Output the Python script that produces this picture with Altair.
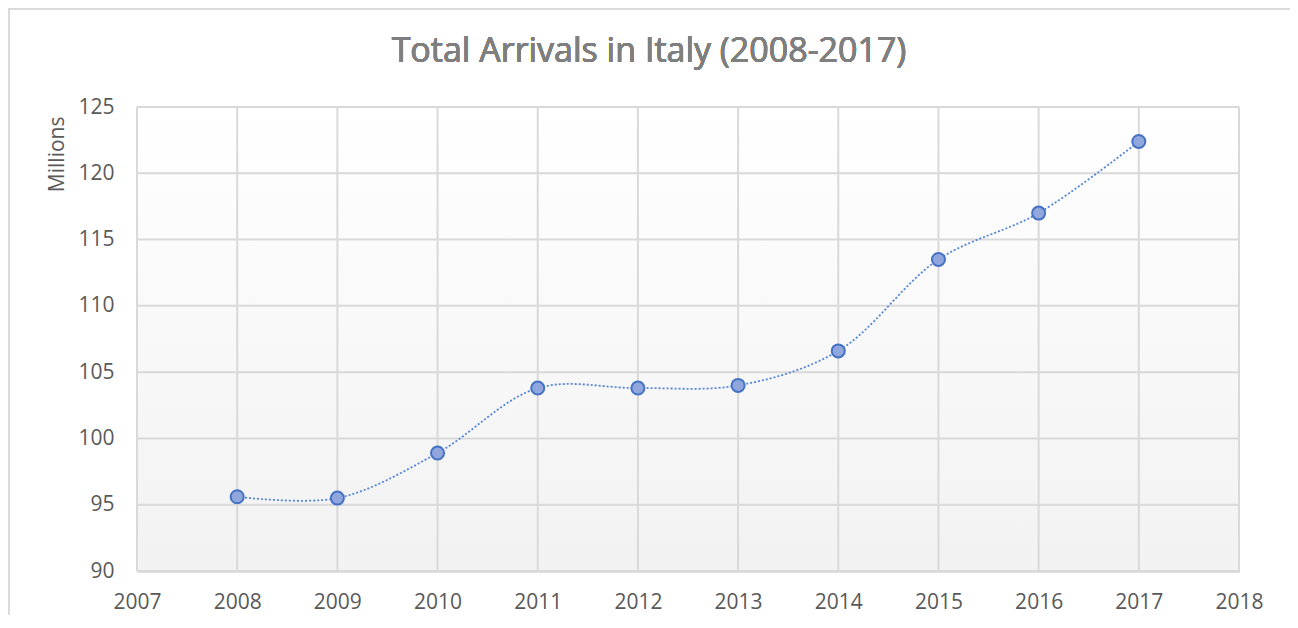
import altair as alt
import pandas as pd

years = [2008, 2009, 2010, 2011, 2012, 2013, 2014, 2015, 2016, 2017]
arrivals = [95.6, 95.5, 98.9, 103.8, 103.8, 104.0, 106.6, 113.5, 117.0, 122.4]
x_ticks = list(range(2007, 2019))
y_ticks = [90, 95, 100, 105, 110, 115, 120, 125]
title_text = "Total Arrivals in Italy (2008-2017)"

df = pd.DataFrame({"year": years, "arrivals": arrivals})
dfx = pd.DataFrame({"year": x_ticks})
dfy = pd.DataFrame({"arrivals": y_ticks})

W, H = 1102, 464
FONT = "Open Sans"
GREY = "#595959"
GRID = "#d9d9d9"

xscale = alt.Scale(domain=[2007, 2018], nice=False, zero=False)
yscale = alt.Scale(domain=[90, 125], nice=False, zero=False)
xaxis = alt.Axis(values=x_ticks, format="d", title=None, grid=False, labelFlush=False,
                 domainColor="#bfbfbf", domainWidth=2, ticks=False,
                 labelFont=FONT, labelFontSize=21, labelColor=GREY, labelPadding=20)
yaxis = alt.Axis(values=y_ticks, title="Millions", grid=False, domain=False, ticks=False,
                 labelFont=FONT, labelFontSize=21, labelColor=GREY, labelPadding=23,
                 titleFont=FONT, titleFontSize=21, titleColor=GREY, titleFontWeight="normal",
                 titleAngle=270, titleAlign="right", titleBaseline="middle",
                 titleX=-80, titleY=9)

def X(f):
    return alt.X(f"{f}:Q", scale=xscale, axis=xaxis)

def Y(f):
    return alt.Y(f"{f}:Q", scale=yscale, axis=yaxis)

bg = alt.Chart(df).mark_rect(
    color=alt.LinearGradient(gradient="linear", x1=0, y1=0, x2=0, y2=1,
                             stops=[alt.GradientStop(color="#ffffff", offset=0),
                                    alt.GradientStop(color="#f2f2f2", offset=1)])
).encode(x=alt.value(0), x2=alt.value(W), y=alt.value(0), y2=alt.value(H))

vgrid = alt.Chart(dfx).mark_rule(color=GRID, strokeWidth=2).encode(
    x=X("year"), y=alt.value(0), y2=alt.value(H))
hgrid = alt.Chart(dfy).mark_rule(color=GRID, strokeWidth=2).encode(
    y=Y("arrivals"), x=alt.value(0), x2=alt.value(W))

border = alt.Chart(df).mark_rect(fill=None, stroke=GRID, strokeWidth=1.5, clip=False).encode(
    x=alt.value(-128.5), x2=alt.value(1154.5), y=alt.value(-98.5), y2=alt.value(560))

title = alt.Chart(df).mark_text(text=title_text, font=FONT, fontSize=34, color="#7f7f7f",
                                align="center", baseline="middle").encode(
    x=alt.value(512), y=alt.value(-55))

line = alt.Chart(df).mark_line(interpolate="catmull-rom", color="#5585d8", strokeWidth=1.8,
                               strokeDash=[2, 2]).encode(x=X("year"), y=Y("arrivals"))
pts = alt.Chart(df).mark_point(filled=True, shape="circle", size=170, fill="#91a6dc",
                               stroke="#4472c4", strokeWidth=2, opacity=1).encode(
    x=X("year"), y=Y("arrivals"))

chart = alt.layer(bg, vgrid, hgrid, border, title, line, pts).properties(
    width=W, height=H,
    autosize=alt.AutoSizeParams(type="none"),
    padding={"left": 129, "top": 99, "right": 51, "bottom": 44},
).configure_view(stroke=None).configure(background="#ffffff")

chart.save("out.html", embed_options={"renderer": "svg", "actions": False})
